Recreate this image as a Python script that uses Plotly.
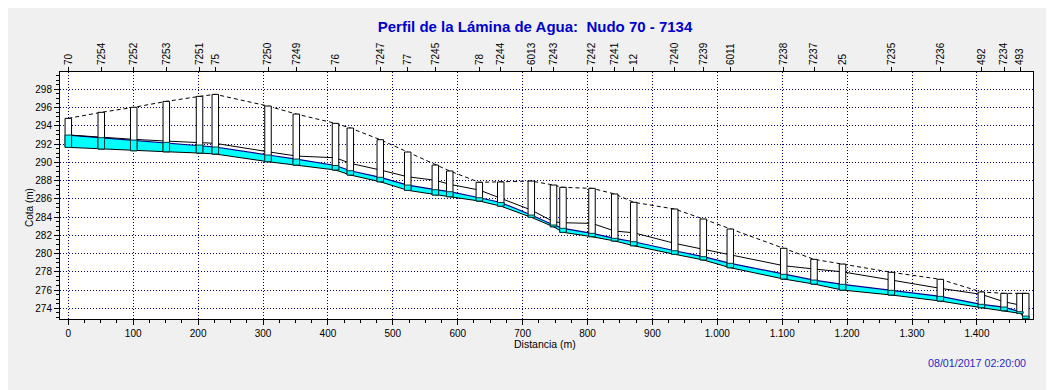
import plotly.graph_objects as go

# ---------------- data ----------------
node_labels = ["70", "7254", "7252", "7253", "7251", "75", "7250", "7249", "76", "",
               "7247", "77", "7245", "", "78", "7244", "6013", "7243", "", "7242",
               "7241", "12", "7240", "7239", "6011", "7238", "7237", "25", "7235", "7236",
               "492", "7234", "493", ""]
node_dist = [0, 50.8, 100.8, 151.0, 202.2, 226.5, 307.7, 351.3, 411.7, 434.5,
             480.7, 523.0, 565.5, 587.7, 633.3, 666.3, 713.4, 747.6, 762.2, 806.9,
             841.9, 871.2, 934.4, 978.4, 1020.0, 1102.3, 1149.0, 1192.9, 1268.1, 1343.6,
             1406.8, 1441.8, 1466.4, 1475.2]
ground_elev = [294.82, 295.48, 296.03, 296.68, 297.23, 297.45, 296.17, 295.29, 294.27, 293.76,
               292.48, 291.13, 289.70, 289.05, 287.81, 287.85, 287.95, 287.51, 287.26, 287.15,
               286.53, 285.62, 284.88, 283.79, 282.69, 280.58, 279.37, 278.85, 277.95, 277.18,
               275.79, 275.64, 275.64, 275.64]
invert_elev = [291.64, 291.46, 291.27, 291.16, 291.02, 290.91, 290.07, 289.70, 289.16, 288.61,
               287.87, 286.93, 286.42, 286.23, 285.76, 285.20, 283.97, 282.94, 282.33, 281.85,
               281.38, 280.86, 279.92, 279.30, 278.45, 277.21, 276.66, 276.00, 275.46, 274.80,
               274.07, 273.74, 273.45, 272.86]
water_elev = [292.99, 292.70, 292.44, 292.19, 291.90, 291.68, 290.80, 290.36, 289.65, 289.08,
              288.36, 287.51, 287.00, 286.78, 286.12, 285.60, 284.22, 283.13, 282.77, 282.22,
              281.67, 281.30, 280.31, 279.66, 278.93, 277.73, 277.10, 276.63, 275.97, 275.31,
              274.44, 274.14, 273.63, 273.15]
crown_elev = [293.00, 292.74, 292.52, 292.33, 292.19, 292.08, 291.16, 290.69, 290.50, 289.89,
              289.16, 288.42, 288.03, 287.59, 286.96, 286.05, 284.77, 283.49, 283.38, 283.31,
              282.47, 282.28, 281.12, 280.47, 279.84, 278.67, 278.31, 278.00, 277.10, 276.19,
              275.53, 274.72, 274.36, 273.63]

x_tick_values = [0, 100, 200, 300, 400, 500, 600, 700, 800, 900, 1000, 1100, 1200, 1300, 1400]
y_tick_values = [274, 276, 278, 280, 282, 284, 286, 288, 290, 292, 294, 296, 298]

title_text = "Perfil de la Lámina de Agua: \u00a0Nudo 70 - 7134"
timestamp_text = "08/01/2017 02:20:00"

# ---------------- styling ----------------
# the page body has an 8px margin, so the figure is sized to fit inside it
OFF = 8
W, H = 1054 - OFF, 390 - OFF
X_RANGE = [-12.8, 1486.4]
Y_RANGE = [272.83, 299.9]
BAR_W = 10
FONT = "Arial, 'Liberation Sans', sans-serif"
GRID = "#000080"
CYAN = "#00FFFF"

top_vals = [d for d, l in zip(node_dist, node_labels) if l]
top_text = [l for l in node_labels if l]

fig = go.Figure()
fig.add_trace(go.Scatter(x=node_dist, y=invert_elev, mode="lines",
                         line=dict(color="black", width=1), showlegend=False, hoverinfo="skip"))
fig.add_trace(go.Scatter(x=node_dist, y=water_elev, mode="lines", fill="tonexty",
                         fillcolor=CYAN, line=dict(color="#000090", width=1.2),
                         showlegend=False, hoverinfo="skip"))
fig.add_trace(go.Scatter(x=node_dist, y=crown_elev, mode="lines",
                         line=dict(color="black", width=1), showlegend=False, hoverinfo="skip"))
fig.add_trace(go.Scatter(x=node_dist, y=ground_elev, mode="lines",
                         line=dict(color="black", width=1, dash="4px,3px"),
                         showlegend=False, hoverinfo="skip"))

fig.add_trace(go.Bar(x=node_dist, y=[g - i for g, i in zip(ground_elev, invert_elev)],
                     base=invert_elev, width=BAR_W,
                     marker=dict(color="white", line=dict(color="black", width=1)),
                     xaxis="x2", yaxis="y2", showlegend=False, hoverinfo="skip"))
fig.add_trace(go.Bar(x=node_dist, y=[w - i for w, i in zip(water_elev, invert_elev)],
                     base=invert_elev, width=BAR_W,
                     marker=dict(color=CYAN, line=dict(color="#003838", width=1)),
                     xaxis="x2", yaxis="y2", showlegend=False, hoverinfo="skip"))

axis_font = dict(family=FONT, size=10, color="black")

fig.update_layout(
    width=W, height=H,
    paper_bgcolor="#F0F0F0", plot_bgcolor="white",
    margin=dict(l=60 - OFF, r=21, t=72 - OFF, b=71, autoexpand=False),
    barmode="overlay",
    separators=",.",
    hovermode=False,
    title=dict(text=title_text, x=(535 - OFF) / W, xanchor="center", xref="container",
               y=1 - (27 - OFF) / H, yanchor="middle", yref="container",
               font=dict(family=FONT, size=15, color="#0000CD", weight="bold")),
    xaxis=dict(range=X_RANGE, tickmode="array", tickvals=x_tick_values, tickformat=",d",
               showgrid=True, gridcolor=GRID, griddash="1px,2px", gridwidth=1,
               showline=True, linecolor="black", linewidth=1, mirror=True,
               ticks="outside", ticklen=5, tickcolor="black", zeroline=False,
               tickfont=axis_font, automargin=False,
               minor=dict(dtick=25, tick0=0, ticks="outside", ticklen=3, tickcolor="black",
                          showgrid=False)),
    yaxis=dict(range=Y_RANGE, tickmode="array", tickvals=y_tick_values,
               showgrid=True, gridcolor=GRID, griddash="1px,2px", gridwidth=1,
               showline=True, linecolor="black", linewidth=1, mirror=True,
               ticks="outside", ticklen=5, tickcolor="black", zeroline=False,
               tickfont=axis_font, automargin=False,
               minor=dict(dtick=0.5, tick0=274, ticks="outside", ticklen=3, tickcolor="black",
                          showgrid=False)),
    xaxis2=dict(range=X_RANGE, overlaying="x", side="top", tickmode="array",
                tickvals=top_vals, ticktext=top_text, tickangle=-90,
                ticks="outside", ticklen=4, tickcolor="black", showgrid=False,
                showline=False, zeroline=False, tickfont=axis_font, automargin=False),
    yaxis2=dict(range=Y_RANGE, overlaying="y", visible=False, showgrid=False,
                automargin=False),
    annotations=[
        dict(text="Cota (m)", x=(29 - 60) / 973, y=(319 - 208) / 247, xref="paper", yref="paper",
             textangle=-90, showarrow=False, xanchor="center", yanchor="middle",
             font=dict(family=FONT, size=10, color="black")),
        dict(text="Distancia (m)", x=(545 - 60) / 973, y=(319 - 344) / 247, xref="paper",
             yref="paper", showarrow=False, xanchor="center", yanchor="middle",
             font=dict(family=FONT, size=10.5, color="black")),
        dict(text=timestamp_text, x=(1028 - 60) / 973, y=(319 - 363) / 247, xref="paper",
             yref="paper", showarrow=False, xanchor="right", yanchor="middle",
             font=dict(family=FONT, size=10.7, color="#2828C0")),
    ],
)

fig.write_html("out.html")
